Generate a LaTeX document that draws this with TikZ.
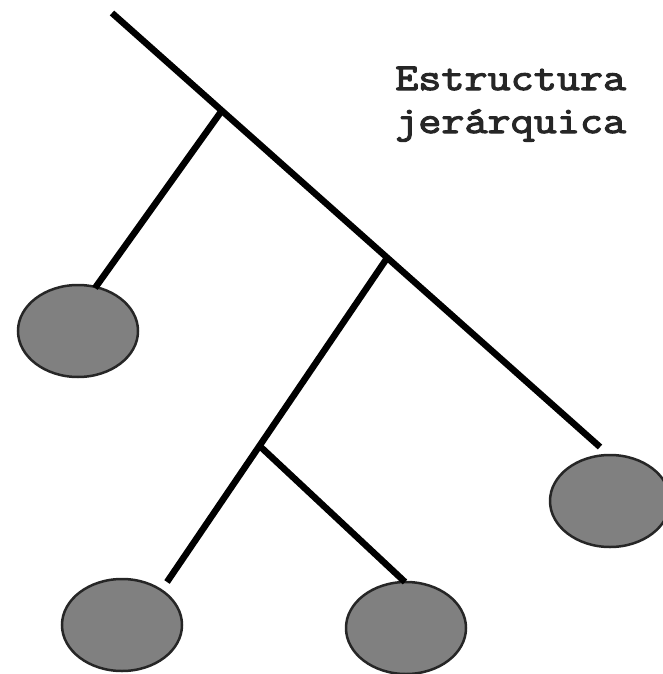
\documentclass[tikz,border=0pt]{standalone}
\usepackage{fontspec}
\usetikzlibrary{shapes.geometric}
\newfontfamily\monofont[FakeStretch=1.18,FakeBold=3]{Latin Modern Mono}
\begin{document}
\begin{tikzpicture}[x=1pt,y=-1pt,
	rama/.style={line width=6.5pt},
	hoja/.style={ellipse,draw=black!85,line width=2.5pt,fill=black!50,minimum width=120pt,minimum height=92pt,inner sep=0pt}]
					\useasboundingbox (0,0) rectangle (662,674);
					\coordinate (raiz) at (112,13);
					\coordinate (fin) at (600,447);
					\path (raiz)--(fin) coordinate[pos=.225] (n1) coordinate[pos=.564] (n2);
					\node[hoja] (h1) at (78,331) {};
					\node[hoja] (h2) at (610,501) {};
					\node[hoja] (h3) at (122,625) {};
					\node[hoja] (h4) at (406,628) {};
					\coordinate (e1) at (95,288);
					\coordinate (e2) at (167,582);
					\coordinate (e3) at (405,582);
					\path (n2)--(e2) coordinate[pos=.58] (n3);
					\draw[rama] (raiz)--(fin);
					\draw[rama] (n1)--(e1);
					\draw[rama] (n2)--(e2);
					\draw[rama] (n3)--(e3);
					\node[anchor=base west,align=left,inner sep=0pt,font=\monofont\fontsize{38}{43}\selectfont,text=black!85] (titulo) at (395,133) {Estructura\\jer\'arquica};
			\end{tikzpicture}
\end{document}
